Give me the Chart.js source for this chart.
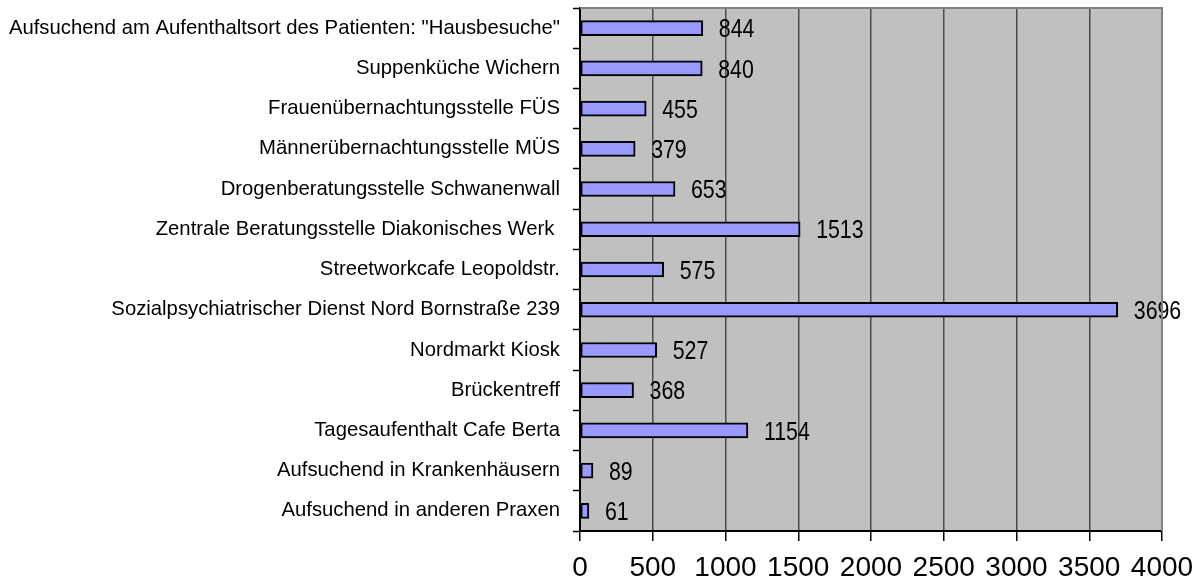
<!DOCTYPE html>
<html>
<head>
<meta charset="utf-8">
<script src="https://cdn.jsdelivr.net/npm/chart.js@4/dist/chart.umd.min.js"></script>
<style>
html,body{margin:0;padding:0;background:#fff;}
#wrap{width:1199px;height:583px;position:relative;}
</style>
</head>
<body>
<div id="wrap"><canvas id="c" width="1199" height="583"></canvas></div>
<script>
const categories = [
  'Aufsuchend am Aufenthaltsort des Patienten: "Hausbesuche"',
  'Suppenküche Wichern',
  'Frauenübernachtungsstelle FÜS',
  'Männerübernachtungsstelle MÜS',
  'Drogenberatungsstelle Schwanenwall',
  'Zentrale Beratungsstelle Diakonisches Werk ',
  'Streetworkcafe Leopoldstr.',
  'Sozialpsychiatrischer Dienst Nord Bornstraße 239',
  'Nordmarkt Kiosk',
  'Brückentreff',
  'Tagesaufenthalt Cafe Berta',
  'Aufsuchend in Krankenhäusern',
  'Aufsuchend in anderen Praxen'
];
const values = [844, 840, 455, 379, 653, 1513, 575, 3696, 527, 368, 1154, 89, 61];
const xTicks = [0, 500, 1000, 1500, 2000, 2500, 3000, 3500, 4000];

const FONT = '"Liberation Sans", Arial, sans-serif';

const bgPlugin = {
  id: 'bg',
  beforeDraw(chart) {
    const {ctx, chartArea: a} = chart;
    ctx.save();
    ctx.fillStyle = '#C0C0C0';
    ctx.fillRect(a.left, a.top, a.right - a.left, a.bottom - a.top);
    ctx.restore();
  },
  afterDraw(chart) {
    const {ctx, chartArea: a} = chart;
    ctx.save();
    ctx.strokeStyle = '#808080';
    ctx.lineWidth = 2;
    ctx.beginPath();
    ctx.moveTo(a.left, a.top);
    ctx.lineTo(a.right, a.top);
    ctx.lineTo(a.right, a.bottom);
    ctx.stroke();
    ctx.restore();
  }
};

const valueLabels = {
  id: 'valueLabels',
  afterDatasetsDraw(chart) {
    const {ctx} = chart;
    const meta = chart.getDatasetMeta(0);
    meta.data.forEach((bar, i) => {
      ctx.save();
      ctx.font = '26px ' + FONT;
      ctx.fillStyle = '#000';
      ctx.textAlign = 'left';
      ctx.textBaseline = 'middle';
      ctx.translate(bar.x + 16, bar.y + 2);
      ctx.scale(0.82, 1);
      ctx.fillText(String(values[i]), 0, 0);
      ctx.restore();
    });
  }
};

new Chart(document.getElementById('c'), {
  type: 'bar',
  data: {
    labels: categories,
    datasets: [{
      data: values,
      backgroundColor: '#9999FF',
      borderColor: '#000000',
      borderWidth: 2,
      borderSkipped: false,
      barThickness: 15
    }]
  },
  options: {
    indexAxis: 'y',
    responsive: false,
    animation: false,
    devicePixelRatio: 1,
    layout: { padding: { top: 8, right: 37, left: 0, bottom: 0 } },
    plugins: { legend: { display: false }, tooltip: { enabled: false } },
    scales: {
      x: {
        min: 0, max: 4000,
        afterBuildTicks(s) { s.ticks = xTicks.map(v => ({value: v})); },
        afterFit(s) { s.height = 52; s.paddingLeft = 0; s.paddingRight = 0; },
        grid: { color: '#4a4a4a', lineWidth: 1.5, tickLength: 10, tickColor: '#000', tickWidth: 1.5 },
        border: { color: '#000', width: 2 },
        ticks: { color: '#000', font: { family: FONT, size: 28 }, padding: 10, maxRotation: 0, autoSkip: false,
                 callback: (v) => String(v) }
      },
      y: {
        afterFit(s) { s.width = 580; s.paddingTop = 0; s.paddingBottom = 0; },
        grid: { drawOnChartArea: false, tickLength: 7, tickColor: '#000', tickWidth: 1.5, offset: true },
        border: { color: '#000', width: 2 },
        ticks: { color: '#000', font: { family: FONT, size: 20.3 }, padding: 13, autoSkip: false }
      }
    }
  },
  plugins: [bgPlugin, valueLabels]
});
</script>
</body>
</html>
